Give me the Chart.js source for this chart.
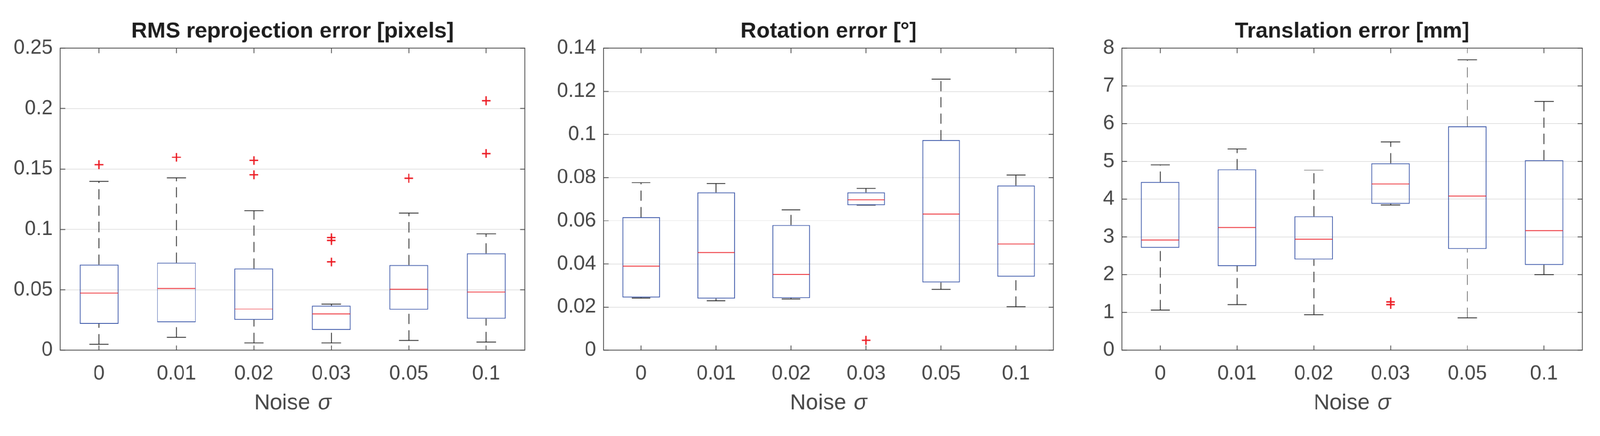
<!DOCTYPE html>
<html>
<head>
<meta charset="utf-8">
<script src="https://cdn.jsdelivr.net/npm/chart.js@4.4.1/dist/chart.umd.min.js"></script>
<style>
    html, body { margin: 0; padding: 0; background: #fff; overflow: hidden; }
    #page { position: absolute; left: 0; top: 0; width: 4223px; height: 1115px; overflow: hidden; transform-origin: 0 0; background: #fff; }
    canvas { position: absolute; top: 0; }
</style>
</head>
<body>
<div id="page">
<canvas id="rmsChart" width="1544" height="1115" style="left:0px"></canvas>
<canvas id="rotChart" width="1573" height="1115" style="left:1400px"></canvas>
<canvas id="transChart" width="1537" height="1115" style="left:2800px"></canvas>
</div>
<script>
const noiseLevels = ['0', '0.01', '0.02', '0.03', '0.05', '0.1'];
const xTitle = 'Noise ';
const xSymbol = 'σ';

// RMS reprojection error [pixels]
const rmsLo  = [0.0050, 0.0106, 0.0061, 0.0061, 0.0081, 0.0068];
const rmsQ1  = [0.0218, 0.0231, 0.0253, 0.0169, 0.0335, 0.0262];
const rmsMed = [0.0474, 0.0511, 0.0341, 0.0300, 0.0504, 0.0482];
const rmsQ3  = [0.0708, 0.0724, 0.0677, 0.0369, 0.0705, 0.0802];
const rmsHi  = [0.1399, 0.1427, 0.1154, 0.0382, 0.1135, 0.0962];
const rmsOutCat = ['0', '0.01', '0.02', '0.02', '0.03', '0.03', '0.03', '0.05', '0.1', '0.1'];
const rmsOutVal = [0.1536, 0.1597, 0.1571, 0.1452, 0.0932, 0.0909, 0.0731, 0.1424, 0.2065, 0.1628];
const rmsTicks = [0, 0.05, 0.1, 0.15, 0.2, 0.25];

// Rotation error [°]
const rotLo  = [0.0241, 0.0229, 0.0237, 0.0673, 0.0282, 0.0202];
const rotQ1  = [0.0244, 0.0239, 0.0241, 0.0673, 0.0315, 0.0341];
const rotMed = [0.0390, 0.0453, 0.0351, 0.0697, 0.0631, 0.0493];
const rotQ3  = [0.0617, 0.0732, 0.0580, 0.0732, 0.0974, 0.0763];
const rotHi  = [0.0777, 0.0772, 0.0650, 0.0750, 0.1257, 0.0812];
const rotOutCat = ['0.03'];
const rotOutVal = [0.0046];
const rotTicks = [0, 0.02, 0.04, 0.06, 0.08, 0.1, 0.12, 0.14];

// Translation error [mm]
const trLo  = [1.06, 1.21, 0.94, 3.85, 0.86, 2.00];
const trQ1  = [2.71, 2.23, 2.40, 3.88, 2.68, 2.26];
const trMed = [2.92, 3.25, 2.94, 4.40, 4.08, 3.17];
const trQ3  = [4.46, 4.79, 3.55, 4.95, 5.93, 5.03];
const trHi  = [4.91, 5.33, 4.77, 5.52, 7.69, 6.59];
const trOutCat = ['0.03', '0.03'];
const trOutVal = [1.28, 1.21];
const trTicks = [0, 1, 2, 3, 4, 5, 6, 7, 8];

const FONT = "'Liberation Sans', Arial, sans-serif";
const AXIS = '#474747';
const BLUE = '#3451a6';
const RED = '#ec1c24';
const WHISKER = '#1e1e1e';

// the page is laid out in 4223px units, scale it to whatever the viewport really is
const fit = window.innerWidth / 4223;
const pxRatio = (window.devicePixelRatio || 1) * fit;

document.addEventListener("DOMContentLoaded", () => {
    document.getElementById('page').style.transform = 'scale(' + fit + ')';
    makeBoxChart('rmsChart', 'RMS reprojection error [pixels]', 159,
        {lo: rmsLo, q1: rmsQ1, med: rmsMed, q3: rmsQ3, hi: rmsHi}, rmsOutCat, rmsOutVal, rmsTicks);
    makeBoxChart('rotChart', 'Rotation error [°]', 193,
        {lo: rotLo, q1: rotQ1, med: rotMed, q3: rotQ3, hi: rotHi}, rotOutCat, rotOutVal, rotTicks);
    makeBoxChart('transChart', 'Translation error [mm]', 161,
        {lo: trLo, q1: trQ1, med: trMed, q3: trQ3, hi: trHi}, trOutCat, trOutVal, trTicks);
});

// frame with inward ticks, whiskers and caps under the boxes, medians on top, and the x label
function boxPartsPlugin(stats) {
    const seg = (ctx, x0, y0, x1, y1) => {
        ctx.beginPath(); ctx.moveTo(x0, y0); ctx.lineTo(x1, y1); ctx.stroke();
    };
    return {
        id: 'boxParts',
        beforeDatasetsDraw(chart) {
            const {ctx, chartArea: a, scales: {x, y}} = chart;
            ctx.save();
            ctx.strokeStyle = AXIS;
            ctx.lineWidth = 2;
            ctx.strokeRect(a.left, a.top, a.right - a.left, a.bottom - a.top);
            ctx.beginPath();
            x.ticks.forEach((t, i) => {
                const px = x.getPixelForTick(i);
                ctx.moveTo(px, a.bottom); ctx.lineTo(px, a.bottom - 13);
                ctx.moveTo(px, a.top); ctx.lineTo(px, a.top + 13);
            });
            y.ticks.forEach(t => {
                const py = y.getPixelForValue(t.value);
                ctx.moveTo(a.left, py); ctx.lineTo(a.left + 13, py);
                ctx.moveTo(a.right, py); ctx.lineTo(a.right - 13, py);
            });
            ctx.stroke();

            const step = x.getPixelForValue(1) - x.getPixelForValue(0);
            ctx.strokeStyle = WHISKER;
            stats.med.forEach((m, i) => {
                const cx = x.getPixelForValue(i);
                const lo = y.getPixelForValue(stats.lo[i]);
                const q1 = y.getPixelForValue(stats.q1[i]);
                const q3 = y.getPixelForValue(stats.q3[i]);
                const hi = y.getPixelForValue(stats.hi[i]);
                ctx.setLineDash([27, 16]);
                if (q3 - hi > 1) seg(ctx, cx, q3, cx, hi);
                if (lo - q1 > 1) seg(ctx, cx, lo, cx, q1);
                ctx.setLineDash([]);
                seg(ctx, cx - step * 0.125, hi, cx + step * 0.125, hi);
                seg(ctx, cx - step * 0.125, lo, cx + step * 0.125, lo);
            });
            ctx.restore();
        },
        afterDatasetsDraw(chart) {
            const {ctx, scales: {x, y}} = chart;
            const step = x.getPixelForValue(1) - x.getPixelForValue(0);
            ctx.save();
            ctx.lineWidth = 2;
            ctx.strokeStyle = RED;
            stats.med.forEach((m, i) => {
                const cx = x.getPixelForValue(i);
                const md = y.getPixelForValue(m);
                seg(ctx, cx - step * 0.25 + 1, md, cx + step * 0.25 - 1, md);
            });
            ctx.restore();
        },
        afterDraw(chart) {
            const {ctx, chartArea: a} = chart;
            ctx.save();
            ctx.fillStyle = AXIS;
            ctx.textBaseline = 'alphabetic';
            const f1 = '58px ' + FONT, f2 = 'italic 58px ' + FONT;
            ctx.font = f1;
            const w1 = ctx.measureText(xTitle).width;
            ctx.font = f2;
            const w2 = ctx.measureText(xSymbol).width;
            const x0 = (a.left + a.right) / 2 - (w1 + w2 + 4) / 2;
            const base = chart.height - 37;
            ctx.font = f1;
            ctx.fillText(xTitle, x0, base);
            ctx.font = f2;
            ctx.fillText(xSymbol, x0 + w1 + 4, base);
            ctx.restore();
        }
    };
}

function makeBoxChart(id, title, side, stats, outCat, outVal, yTicks) {
    const ctx = document.getElementById(id).getContext('2d');
    return new Chart(ctx, {
        type: 'bar',
        data: {
            labels: noiseLevels,
            datasets: [{
                data: stats.q1.map((v, i) => [v, stats.q3[i]]),
                backgroundColor: 'rgba(0,0,0,0)',
                borderColor: BLUE,
                borderWidth: 2,
                borderSkipped: false,
                barPercentage: 0.5,
                categoryPercentage: 1
            }, {
                type: 'line',
                data: outCat.map((c, i) => ({x: c, y: outVal[i]})),
                showLine: false,
                pointStyle: 'cross',
                pointRadius: 11.5,
                pointBorderWidth: 3.5,
                borderColor: RED,
                backgroundColor: RED
            }]
        },
        options: {
            responsive: false,
            animation: false,
            devicePixelRatio: pxRatio,
            layout: {padding: {left: 0, right: side, top: 0, bottom: 0}},
            plugins: {
                legend: {display: false},
                tooltip: {enabled: false},
                title: {
                    display: true,
                    fullSize: false,
                    text: title,
                    color: '#1e1e1e',
                    font: {family: FONT, size: 58, weight: 'bold'},
                    padding: {top: 48, bottom: 9.4}
                }
            },
            scales: {
                x: {
                    grid: {display: false},
                    border: {display: false},
                    ticks: {color: AXIS, font: {family: FONT, size: 53}, padding: 23, maxRotation: 0},
                    afterFit: s => { s.height = 192; }
                },
                y: {
                    min: yTicks[0],
                    max: yTicks[yTicks.length - 1],
                    afterBuildTicks: s => { s.ticks = yTicks.map(v => ({value: v})); },
                    ticks: {color: AXIS, font: {family: FONT, size: 53}, padding: 20, callback: v => String(v)},
                    grid: {color: '#e2e2e2', lineWidth: 2, drawTicks: false},
                    border: {display: false},
                    afterFit: s => { s.width = side; }
                }
            }
        },
        plugins: [boxPartsPlugin(stats)]
    });
}
</script>
</body>
</html>
